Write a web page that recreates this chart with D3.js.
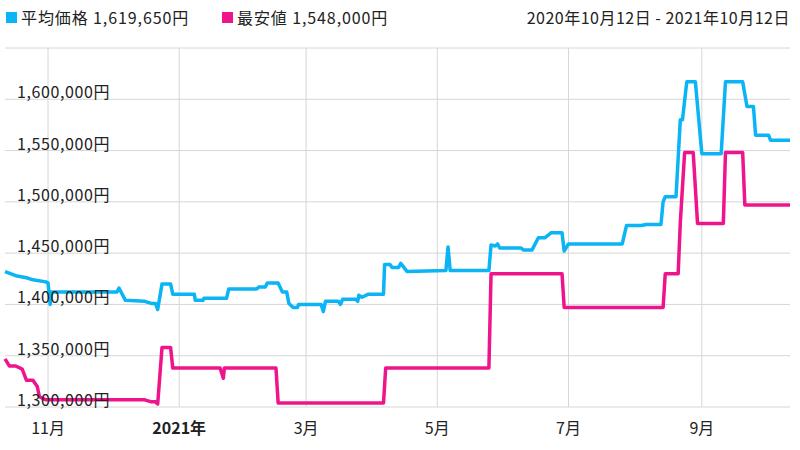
<!DOCTYPE html>
<html><head><meta charset="utf-8">
<script src="https://cdn.jsdelivr.net/npm/d3@7"></script>
<style>body{margin:0;background:#fff;font-family:"Noto Sans CJK JP","Noto Sans",sans-serif}</style>
</head><body><svg id="c" width="800" height="450"></svg>
<script>
// days since 2020-10-12, value in yen
const avgSeries = [[0,1432000],[5,1428000],[10,1426000],[13,1424000],[19,1422000],[20,1421000],[21,1400000],[21.5,1412000],[52,1412000],[53,1416000],[56,1404000],[65,1403000],[68,1401000],[70,1401000],[71,1395000],[73,1420000],[77,1420000],[78,1410000],[88,1410000],[88.5,1404000],[92,1404000],[92.5,1406000],[103,1406000],[104,1415000],[117,1415000],[118,1417000],[121,1417000],[122,1421000],[127,1421000],[129,1412000],[131,1412000],[132,1401000],[134,1397000],[136,1397000],[136.5,1400000],[147,1400000],[148,1393000],[149,1403000],[155,1403000],[156,1400000],[157,1405000],[163,1405000],[164,1403000],[164.5,1409000],[166,1407000],[169,1410000],[176,1410000],[176.5,1439000],[179,1439000],[180,1436000],[183,1436000],[184,1440000],[187,1432000],[205,1433000],[206,1456000],[207,1433000],[225,1433000],[226,1458000],[228,1457000],[229,1459000],[230,1455000],[240,1455000],[241,1453000],[245,1453000],[248,1465000],[251,1465000],[254,1470000],[259,1470000],[260,1452000],[262,1459000],[287,1459000],[289,1477000],[296,1477000],[298,1478000],[305,1478000],[306,1500000],[307,1505000],[312,1505000],[314,1580000],[315,1580000],[317,1617000],[321,1617000],[324,1547000],[333,1547000],[335,1617000],[343,1617000],[345,1593000],[348,1593000],[349,1565000],[355,1565000],[356,1560000],[365,1560000]];
const minSeries = [[0,1347000],[2,1340000],[5,1340000],[8,1337000],[10,1326000],[13,1326000],[15,1320000],[16,1310000],[19,1307000],[65,1307000],[68,1305000],[70,1305000],[71,1303000],[73,1358000],[77,1358000],[78,1338000],[100,1338000],[101.5,1328000],[102,1338000],[126,1338000],[127,1304000],[176,1304000],[177,1338000],[225,1338000],[226,1430000],[259,1430000],[260,1397000],[306,1397000],[307,1430000],[313,1430000],[314,1480000],[316,1548000],[320,1548000],[322,1479000],[334,1479000],[335,1548000],[343,1548000],[344,1497000],[365,1497000]];
const yTicks = [1300000,1350000,1400000,1450000,1500000,1550000,1600000];
const xTicks = [["2020-11-01","11月",false],["2021-01-01","2021年",true],["2021-03-01","3月",false],["2021-05-01","5月",false],["2021-07-01","7月",false],["2021-09-01","9月",false]];
const legendItems = [["平均価格 1,619,650円","#0ab4f5"],["最安値 1,548,000円","#f0148c"]];
const rangeLabel = "2020年10月12日 - 2021年10月12日";

const start = new Date(2020,9,12);
const day = d => start.getTime() + d*86400000;
const svg = d3.select("#c");
const x = d3.scaleTime().domain([start, new Date(2021,9,12)]).range([5,790]);
const y = d3.scaleLinear().domain([1300000,1650000]).range([407,48]);
const parse = d3.timeParse("%Y-%m-%d");

const g = svg.append("g");
g.selectAll(".hg").data(yTicks.concat([1650000])).join("line")
  .attr("x1",5).attr("x2",790).attr("y1",d=>y(d)).attr("y2",d=>y(d))
  .attr("stroke","#d6d6d6").attr("stroke-width",1);
g.selectAll(".vg").data(xTicks).join("line")
  .attr("x1",d=>x(parse(d[0]))).attr("x2",d=>x(parse(d[0])))
  .attr("y1",48).attr("y2",407).attr("stroke","#d6d6d6");

const line = d3.line().x(d=>x(new Date(day(d[0])))).y(d=>y(d[1]));
g.append("path").datum(avgSeries).attr("d",line).attr("fill","none")
  .attr("stroke",legendItems[0][1]).attr("stroke-width",3.5).attr("stroke-linejoin","round");
g.append("path").datum(minSeries).attr("d",line).attr("fill","none")
  .attr("stroke",legendItems[1][1]).attr("stroke-width",3.5).attr("stroke-linejoin","round");

g.selectAll(".yl").data(yTicks).join("text")
  .attr("x",17).attr("y",d=>y(d)-1).attr("font-size",16).attr("letter-spacing",0.6).attr("fill","#222")
  .text(d=>d3.format(",")(d)+"円");
g.selectAll(".xl").data(xTicks).join("text")
  .attr("x",d=>x(parse(d[0]))).attr("y",434).attr("text-anchor","middle")
  .attr("font-size",16).attr("font-weight",d=>d[2]?"bold":"normal").attr("fill","#222")
  .text(d=>d[1]);

const lg = svg.append("g").selectAll("g").data(legendItems).join("g")
  .attr("transform",(d,i)=>`translate(${i?222:6},0)`);
lg.append("rect").attr("x",0).attr("y",12).attr("width",11).attr("height",11).attr("fill",d=>d[1]);
lg.append("text").attr("x",15).attr("y",24).attr("font-size",16).attr("letter-spacing",0.9).attr("fill","#222").text(d=>d[0]);
svg.append("text").attr("x",790).attr("y",24).attr("text-anchor","end").attr("font-size",16)
  .attr("letter-spacing",0.5).attr("fill","#222").text(rangeLabel);
</script></body></html>
